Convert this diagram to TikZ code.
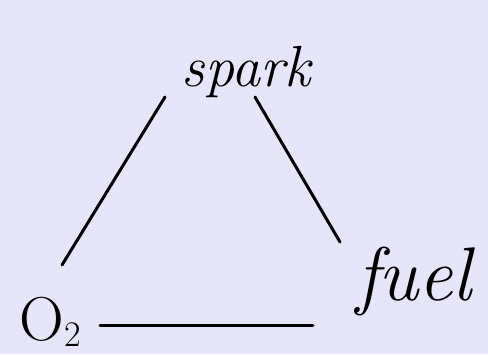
\documentclass[tikz,border=0pt]{standalone}
\usepackage{fontspec}
\definecolor{bgl}{HTML}{E6E6FA}
\tikzset{
  hand/.style={line width=3pt, line cap=round, black},
  lbl/.style={inner sep=0pt, font=\itshape}
}
\begin{document}
\begin{tikzpicture}[x=1pt,y=1pt]
\fill[bgl] (0,0) rectangle (488,354);
\useasboundingbox (0,0) rectangle (488,354);
\node[lbl, font=\fontsize{58}{58}\selectfont\itshape] (spark) at (246,282) {spark};
\node[lbl, font=\fontsize{62}{62}\selectfont] (o2) at (50,32) {O\raisebox{-6pt}{\fontsize{36}{36}\selectfont 2}};
\node[lbl, font=\fontsize{76}{76}\selectfont\itshape] (fuel) at (414,72) {fuel};
\coordinate (a1) at (165,257);
\coordinate (a2) at (62,89);
\coordinate (b1) at (255,257);
\coordinate (b2) at (340,112);
\coordinate (c1) at (100,29);
\coordinate (c2) at (313,29);
\draw[hand] (a1) -- (a2);
\draw[hand] (b1) -- (b2);
\draw[hand] (c1) -- (c2);
\end{tikzpicture}
\end{document}
